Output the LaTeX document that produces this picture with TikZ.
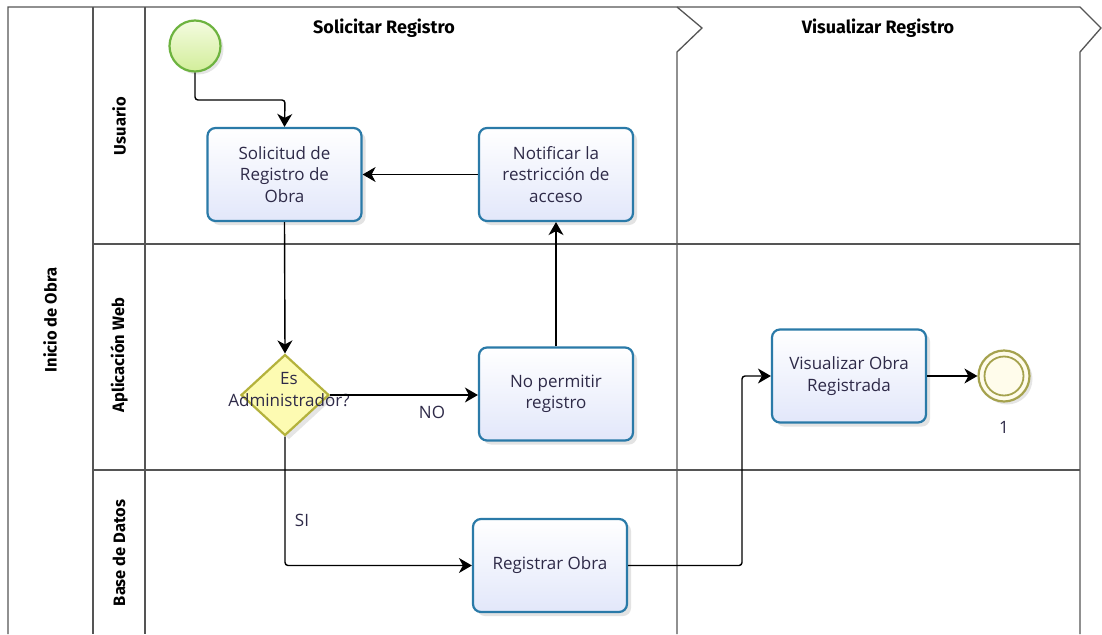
\documentclass[tikz,border=0pt]{standalone}
\usepackage{fontspec}
\setmainfont{Open Sans}
\newfontfamily\headfont{Fira Sans}
\usetikzlibrary{arrows.meta,shapes.geometric,shadows}
\definecolor{poolline}{HTML}{555555}
\definecolor{taskline}{HTML}{2A7AA8}
\definecolor{tasktop}{HTML}{FFFFFF}
\definecolor{taskbot}{HTML}{E2E7FA}
\definecolor{startline}{HTML}{6DB33F}
\definecolor{starttop}{HTML}{F4FBE0}
\definecolor{startbot}{HTML}{D2EE9A}
\definecolor{endline}{HTML}{A5A24E}
\definecolor{endfill}{HTML}{FFFCEB}
\definecolor{gwfill}{HTML}{FDFBB2}
\definecolor{gwline}{HTML}{B4B23C}
\definecolor{txt}{HTML}{2E2A48}
\tikzset{
  pool/.style={draw=poolline, line width=1.3pt},
  task/.style={draw=taskline, line width=2.2pt, rounded corners=8pt,
    top color=tasktop, bottom color=taskbot, minimum width=154pt,
    minimum height=93pt, align=center, text=txt, font=\fontsize{17}{21.5}\selectfont,
    drop shadow={opacity=0.22, shadow xshift=4pt, shadow yshift=-4pt}},
  lanelabel/.style={rotate=90, font=\headfont\bfseries\fontsize{16.5}{18}\selectfont, text=black},
  phaselabel/.style={font=\headfont\bfseries\fontsize{18}{20}\selectfont, text=black},
  flow/.style={draw=black, line width=1.4pt, rounded corners=3pt,
    -{Stealth[length=13pt,width=15pt,inset=4pt]}},
  flowlabel/.style={text=txt, font=\fontsize{17}{20}\selectfont}
}
\begin{document}
\begin{tikzpicture}[x=1pt,y=-1pt]
\useasboundingbox (0,0) rectangle (1102,634);
\fill[white] (0,0) rectangle (1102,634);

% pool frame, lanes and phases
\draw[pool] (8,634) -- (8,7) -- (1080,7) -- (1101,28) -- (1080,52) -- (1080,634);
\draw[pool] (93,7) -- (93,634);
\draw[pool] (145,7) -- (145,634);
\draw[pool] (677,7) -- (702,28) -- (677,52) -- (677,634);
\draw[pool] (93,244) -- (1080,244);
\draw[pool] (93,470) -- (1080,470);

\node[lanelabel] (poolname) at (50,320) {Inicio de Obra};
\node[lanelabel] (laneuser) at (119,126) {Usuario};
\node[lanelabel] (laneweb) at (119,355) {Aplicación Web};
\node[lanelabel] (lanedb) at (119,553) {Base de Datos};
\node[phaselabel] (phaseone) at (384,28) {Solicitar Registro};
\node[phaselabel] (phasetwo) at (878,28) {Visualizar Registro};

% events
\node[circle, draw=startline, line width=2.2pt, top color=starttop, bottom color=startbot,
  minimum size=51pt, inner sep=0pt,
  drop shadow={opacity=0.2, shadow xshift=3pt, shadow yshift=-3pt}] (start) at (195,46) {};
\node[circle, draw=endline, line width=2.2pt, fill=endfill, minimum size=51pt, inner sep=0pt,
  drop shadow={opacity=0.2, shadow xshift=3pt, shadow yshift=-3pt}] (end) at (1004,376) {};
\draw[endline, line width=1.8pt] (end.center) circle (19.5pt);
\node[flowlabel] (endlabel) at (1004,427) {1};

% tasks
\node[task] (solicitud) at (284.5,174.5) {Solicitud de\\Registro de\\Obra};
\node[task] (notificar) at (556,174.5) {Notificar la\\restricción de\\acceso};
\node[task] (nopermitir) at (556,394) {No permitir\\registro};
\node[task] (registrar) at (550,565.5) {Registrar Obra};
\node[task] (visualizar) at (849,376) {Visualizar Obra\\Registrada};

% gateway
\node[diamond, draw=gwline, line width=2.2pt, fill=gwfill, minimum width=88pt,
  minimum height=81pt, inner sep=0pt,
  drop shadow={opacity=0.2, shadow xshift=4pt, shadow yshift=-4pt}] (gate) at (285,395) {};
\node[text=txt, align=center, font=\fontsize{17}{22}\selectfont] (gatetext) at (289,390)
  {Es\\Administrador?};

% sequence flows
\draw[flow] (start.south) -- (195,100) -- (285,100) -- (solicitud.north);
\draw[flow] (solicitud.south) -- (gate.north);
\draw[flow] (gate.east) -- (nopermitir.west |- gate.east);
\node[flowlabel] (nolabel) at (432,412) {NO};
\draw[flow] (nopermitir.north) -- (notificar.south);
\draw[flow] (notificar.west) -- (solicitud.east);
\draw[flow] (gate.south) -- (285,565.5) -- (registrar.west);
\node[flowlabel] (silabel) at (302,520) {SI};
\draw[flow] (registrar.east) -- (742,565.5) -- (742,376) -- (visualizar.west);
\draw[flow] (visualizar.east) -- (end.west);
\end{tikzpicture}
\end{document}
